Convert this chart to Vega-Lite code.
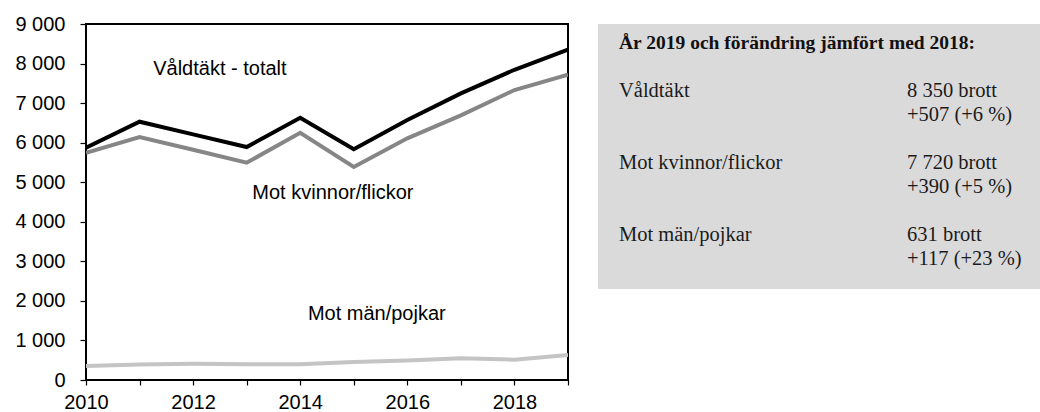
{
  "$schema": "https://vega.github.io/schema/vega-lite/v6.json",
  "padding": {"left": 13, "top": 13, "right": 0, "bottom": 0},
  "background": "white",
  "columns": 2,
  "spacing": 28,
  "config": {
    "font": "Liberation Sans"
  },
  "concat": [
    {
      "width": 482,
      "height": 356,
      "view": {"stroke": "black", "strokeWidth": 2},
      "encoding": {
        "x": {
          "field": "år", "type": "quantitative",
          "scale": {"domain": [2010, 2019], "nice": false, "zero": false},
          "axis": {
            "title": null,
            "grid": false,
            "values": [2010, 2011, 2012, 2013, 2014, 2015, 2016, 2017, 2018, 2019],
            "labelExpr": "(datum.value % 2 == 0 && datum.value < 2019) ? '' + datum.value : ''",
            "labelOverlap": false,
            "labelFlush": false,
            "labelBound": false,
            "domain": false,
            "ticks": true,
            "tickSize": 5,
            "tickColor": "black",
            "tickWidth": 1.2,
            "labelPadding": 7,
            "labelFont": "Liberation Sans",
            "labelFontSize": 20,
            "labelColor": "black"
          }
        },
        "y": {
          "field": "antal", "type": "quantitative",
          "scale": {"domain": [0, 9000], "nice": false},
          "axis": {
            "title": null,
            "grid": false,
            "values": [0, 1000, 2000, 3000, 4000, 5000, 6000, 7000, 8000, 9000],
            "labelExpr": "replace(format(datum.value, ','), ',', ' ')",
            "labelOverlap": false,
            "labelFlush": false,
            "labelBound": false,
            "domain": false,
            "ticks": true,
            "tickSize": 6,
            "tickColor": "black",
            "tickWidth": 1.2,
            "labelPadding": 15,
            "labelFont": "Liberation Sans",
            "labelFontSize": 20,
            "labelColor": "black"
          }
        }
      },
      "layer": [
        {
          "data": {"values": [
            {"år": 2010, "serie": "Mot män/pojkar", "antal": 355},
            {"år": 2011, "serie": "Mot män/pojkar", "antal": 395},
            {"år": 2012, "serie": "Mot män/pojkar", "antal": 410},
            {"år": 2013, "serie": "Mot män/pojkar", "antal": 400},
            {"år": 2014, "serie": "Mot män/pojkar", "antal": 400},
            {"år": 2015, "serie": "Mot män/pojkar", "antal": 455},
            {"år": 2016, "serie": "Mot män/pojkar", "antal": 495},
            {"år": 2017, "serie": "Mot män/pojkar", "antal": 550},
            {"år": 2018, "serie": "Mot män/pojkar", "antal": 514},
            {"år": 2019, "serie": "Mot män/pojkar", "antal": 631},
            {"år": 2010, "serie": "Mot kvinnor/flickor", "antal": 5746},
            {"år": 2011, "serie": "Mot kvinnor/flickor", "antal": 6142},
            {"år": 2012, "serie": "Mot kvinnor/flickor", "antal": 5820},
            {"år": 2013, "serie": "Mot kvinnor/flickor", "antal": 5493},
            {"år": 2014, "serie": "Mot kvinnor/flickor", "antal": 6251},
            {"år": 2015, "serie": "Mot kvinnor/flickor", "antal": 5384},
            {"år": 2016, "serie": "Mot kvinnor/flickor", "antal": 6110},
            {"år": 2017, "serie": "Mot kvinnor/flickor", "antal": 6690},
            {"år": 2018, "serie": "Mot kvinnor/flickor", "antal": 7330},
            {"år": 2019, "serie": "Mot kvinnor/flickor", "antal": 7720},
            {"år": 2010, "serie": "Våldtäkt - totalt", "antal": 5873},
            {"år": 2011, "serie": "Våldtäkt - totalt", "antal": 6530},
            {"år": 2012, "serie": "Våldtäkt - totalt", "antal": 6210},
            {"år": 2013, "serie": "Våldtäkt - totalt", "antal": 5890},
            {"år": 2014, "serie": "Våldtäkt - totalt", "antal": 6630},
            {"år": 2015, "serie": "Våldtäkt - totalt", "antal": 5832},
            {"år": 2016, "serie": "Våldtäkt - totalt", "antal": 6572},
            {"år": 2017, "serie": "Våldtäkt - totalt", "antal": 7247},
            {"år": 2018, "serie": "Våldtäkt - totalt", "antal": 7843},
            {"år": 2019, "serie": "Våldtäkt - totalt", "antal": 8350}
          ]},
          "mark": {"type": "line", "strokeWidth": 4, "clip": true},
          "encoding": {
            "color": {
              "field": "serie", "type": "nominal",
              "scale": {
                "domain": ["Våldtäkt - totalt", "Mot kvinnor/flickor", "Mot män/pojkar"],
                "range": ["#000000", "#868686", "#c4c4c4"]
              },
              "legend": null
            },
            "order": {"field": "år", "type": "quantitative"}
          }
        },
        {
          "data": {"values": [
            {"år": 2012.5, "antal": 7710, "etikett": "Våldtäkt - totalt"},
            {"år": 2014.61, "antal": 4576, "etikett": "Mot kvinnor/flickor"},
            {"år": 2015.43, "antal": 1517, "etikett": "Mot män/pojkar"}
          ]},
          "mark": {"type": "text", "font": "Liberation Sans", "fontSize": 20, "align": "center", "baseline": "alphabetic", "color": "black"},
          "encoding": {
            "text": {"field": "etikett"}
          }
        }
      ]
    },
    {
      "width": 445,
      "height": 265,
      "view": {"fill": "#dadada", "stroke": null},
      "data": {"values": [
        {"kol": 0, "rad": 0, "typ": "rubrik", "text": "År 2019 och förändring jämfört med 2018:"},
        {"kol": 0, "rad": 2, "typ": "rad", "text": "Våldtäkt"},
        {"kol": 1, "rad": 2, "typ": "rad", "text": "8 350 brott"},
        {"kol": 1, "rad": 3, "typ": "rad", "text": "+507 (+6 %)"},
        {"kol": 0, "rad": 5, "typ": "rad", "text": "Mot kvinnor/flickor"},
        {"kol": 1, "rad": 5, "typ": "rad", "text": "7 720 brott"},
        {"kol": 1, "rad": 6, "typ": "rad", "text": "+390 (+5 %)"},
        {"kol": 0, "rad": 8, "typ": "rad", "text": "Mot män/pojkar"},
        {"kol": 1, "rad": 8, "typ": "rad", "text": "631 brott"},
        {"kol": 1, "rad": 9, "typ": "rad", "text": "+117 (+23 %)"}
      ]},
      "encoding": {
        "x": {"field": "kol", "type": "quantitative", "scale": {"domain": [-0.0729, 1.472], "nice": false, "zero": false}, "axis": null},
        "y": {"field": "rad", "type": "quantitative", "scale": {"domain": [-1.0417, 10], "nice": false, "zero": false, "reverse": true}, "axis": null},
        "text": {"field": "text"}
      },
      "layer": [
        {
          "transform": [{"filter": "datum.typ == 'rubrik'"}],
          "mark": {"type": "text", "font": "Liberation Serif", "fontSize": 19.5, "fontWeight": "bold", "align": "left", "baseline": "alphabetic", "color": "#111111"}
        },
        {
          "transform": [{"filter": "datum.typ == 'rad'"}],
          "mark": {"type": "text", "font": "Liberation Serif", "fontSize": 20.5, "align": "left", "baseline": "alphabetic", "color": "#1a1a1a"}
        }
      ]
    }
  ]
}
